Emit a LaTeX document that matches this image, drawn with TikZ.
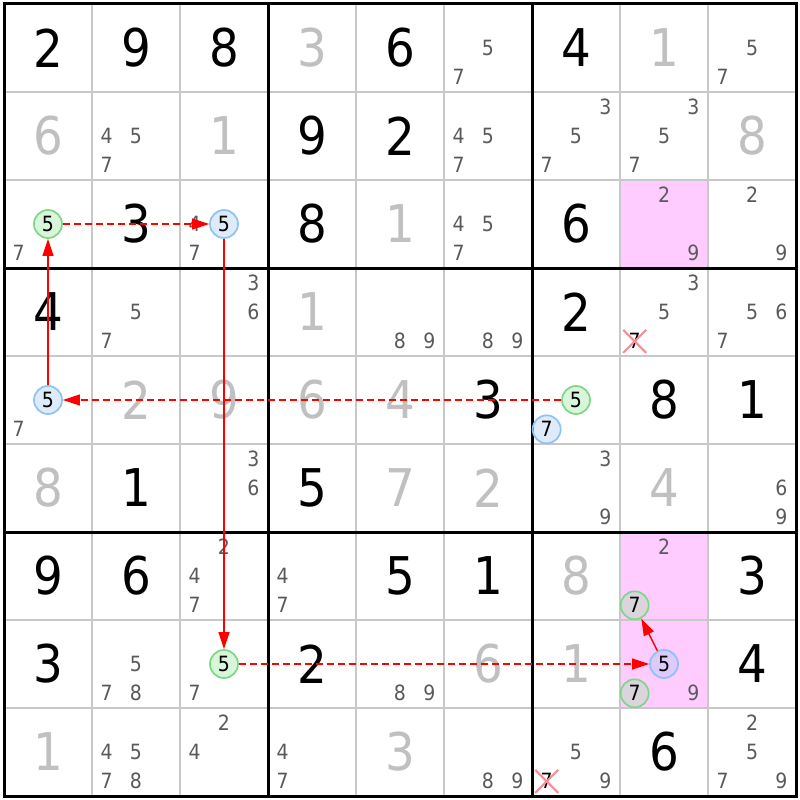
\documentclass[tikz,border=0pt]{standalone}
\usepackage{fontspec}
\setmainfont{DejaVu Sans Condensed}
\usetikzlibrary{arrows.meta,shapes.misc}
\definecolor{solvedc}{RGB}{192,192,192}
\definecolor{candc}{RGB}{90,90,90}
\definecolor{thinc}{RGB}{200,200,200}
\definecolor{pinkc}{RGB}{255,204,255}
\definecolor{gfill}{RGB}{150,230,150}
\definecolor{gline}{RGB}{125,215,135}
\definecolor{bfill}{RGB}{160,200,245}
\definecolor{bline}{RGB}{140,195,245}
\definecolor{xred}{RGB}{245,140,150}
\tikzset{
  given/.style={inner sep=0pt, font=\fontsize{52}{52}\selectfont, text=black},
  solvedd/.style={given, text=solvedc},
  cand/.style={inner sep=0pt, font=\fontsize{21}{21}\selectfont, text=candc},
  circbase/.style={circle, line width=1.7pt, minimum size=28pt, inner sep=0pt,
    fill opacity=0.35, text opacity=1, text=black, font=\fontsize{21}{21}\selectfont},
  gcirc/.style={circbase, draw=gline, fill=gfill},
  bcirc/.style={circbase, draw=bline, fill=bfill},
  xcand/.style={cross out, draw=xred, line width=2pt, minimum size=21pt, inner sep=0pt,
    text=black, font=\fontsize{21}{21}\selectfont},
  link/.style={draw=red, line width=1.4pt, -{Triangle[length=17pt,width=11pt]}},
  weaklink/.style={link, dash pattern=on 7pt off 4pt},
  thingrid/.style={draw=thinc, line width=1.5pt},
  thickgrid/.style={draw=black, line width=3pt},
  pinkcell/.style={fill=pinkc}
}
\newcommand\Gv[3]{\node[given] (n#1#2) at ({48+88*#2},{48+88*#1}) {#3};}
\newcommand\Sv[3]{\node[solvedd] (n#1#2) at ({48+88*#2},{48+88*#1}) {#3};}
\newcommand\Cd[3]{\foreach \d in {#3}{\node[cand] (c#1#2\d) at ({48+88*#2+29.333*(mod(\d-1,3)-1)},{48+88*#1+29.333*(floor((\d-1)/3)-1)}) {\d};}}
\begin{document}
\begin{tikzpicture}[x=1pt,y=-1pt]
\useasboundingbox[fill=white] (0,0) rectangle (800,800);
% highlighted cells
\path[pinkcell] (620,180) rectangle (708,268);
\path[pinkcell] (620,532) rectangle (708,620);
\path[pinkcell] (620,620) rectangle (708,708);
% grid
\foreach \i in {1,2,4,5,7,8}{
  \draw[thingrid] ({4+88*\i},4) -- ({4+88*\i},796);
  \draw[thingrid] (4,{4+88*\i}) -- (796,{4+88*\i});
}
\foreach \i in {0,3,6,9}{
  \draw[thickgrid] ({4+88*\i},2.5) -- ({4+88*\i},797.5);
  \draw[thickgrid] (2.5,{4+88*\i}) -- (797.5,{4+88*\i});
}
% row 0
\Gv{0}{0}{2}\Gv{0}{1}{9}\Gv{0}{2}{8}\Sv{0}{3}{3}\Gv{0}{4}{6}\Cd{0}{5}{5,7}\Gv{0}{6}{4}\Sv{0}{7}{1}\Cd{0}{8}{5,7}
% row 1
\Sv{1}{0}{6}\Cd{1}{1}{4,5,7}\Sv{1}{2}{1}\Gv{1}{3}{9}\Gv{1}{4}{2}\Cd{1}{5}{4,5,7}\Cd{1}{6}{3,5,7}\Cd{1}{7}{3,5,7}\Sv{1}{8}{8}
% row 2
\Cd{2}{0}{7}\Gv{2}{1}{3}\Cd{2}{2}{4,7}\Gv{2}{3}{8}\Sv{2}{4}{1}\Cd{2}{5}{4,5,7}\Gv{2}{6}{6}\Cd{2}{7}{2,9}\Cd{2}{8}{2,9}
% row 3
\Gv{3}{0}{4}\Cd{3}{1}{5,7}\Cd{3}{2}{3,6}\Sv{3}{3}{1}\Cd{3}{4}{8,9}\Cd{3}{5}{8,9}\Gv{3}{6}{2}\Cd{3}{7}{3,5}\Cd{3}{8}{5,6,7}
% row 4
\Cd{4}{0}{7}\Sv{4}{1}{2}\Sv{4}{2}{9}\Sv{4}{3}{6}\Sv{4}{4}{4}\Gv{4}{5}{3}\Gv{4}{7}{8}\Gv{4}{8}{1}
% row 5
\Sv{5}{0}{8}\Gv{5}{1}{1}\Cd{5}{2}{3,6}\Gv{5}{3}{5}\Sv{5}{4}{7}\Sv{5}{5}{2}\Cd{5}{6}{3,9}\Sv{5}{7}{4}\Cd{5}{8}{6,9}
% row 6
\Gv{6}{0}{9}\Gv{6}{1}{6}\Cd{6}{2}{2,4,7}\Cd{6}{3}{4,7}\Gv{6}{4}{5}\Gv{6}{5}{1}\Sv{6}{6}{8}\Cd{6}{7}{2}\Gv{6}{8}{3}
% row 7
\Gv{7}{0}{3}\Cd{7}{1}{5,7,8}\Cd{7}{2}{7}\Gv{7}{3}{2}\Cd{7}{4}{8,9}\Sv{7}{5}{6}\Sv{7}{6}{1}\Cd{7}{7}{9}\Gv{7}{8}{4}
% row 8
\Sv{8}{0}{1}\Cd{8}{1}{4,5,7,8}\Cd{8}{2}{2,4}\Cd{8}{3}{4,7}\Sv{8}{4}{3}\Cd{8}{5}{8,9}\Cd{8}{6}{5,9}\Gv{8}{7}{6}\Cd{8}{8}{2,5,7,9}
% eliminated candidates
\node[xcand] (x37) at (634.67,341.33) {7};
\node[xcand] (x86) at (546.67,781.33) {7};
% chain candidates
\node[gcirc] (a1) at (48,224) {5};
\node[bcirc] (b1) at (224,224) {5};
\node[gcirc] (a2) at (224,664) {5};
\node[bcirc] (b2) at (664,664) {5};
\node[gcirc] (a3) at (634.67,605.33) {7};
\node[gcirc] (a4) at (634.67,693.33) {7};
\node[gcirc] (a5) at (576,400) {5};
\node[bcirc] (b3) at (546.67,429.33) {7};
\node[bcirc] (b4) at (48,400) {5};
% links
\draw[weaklink] (a5) -- (b4);
\draw[link] (b4) -- (a1);
\draw[weaklink] (a1) -- (b1);
\draw[link] (b1) -- (a2);
\draw[weaklink] (a2) -- (b2);
\draw[link] (b2) -- (a3);
\end{tikzpicture}
\end{document}
